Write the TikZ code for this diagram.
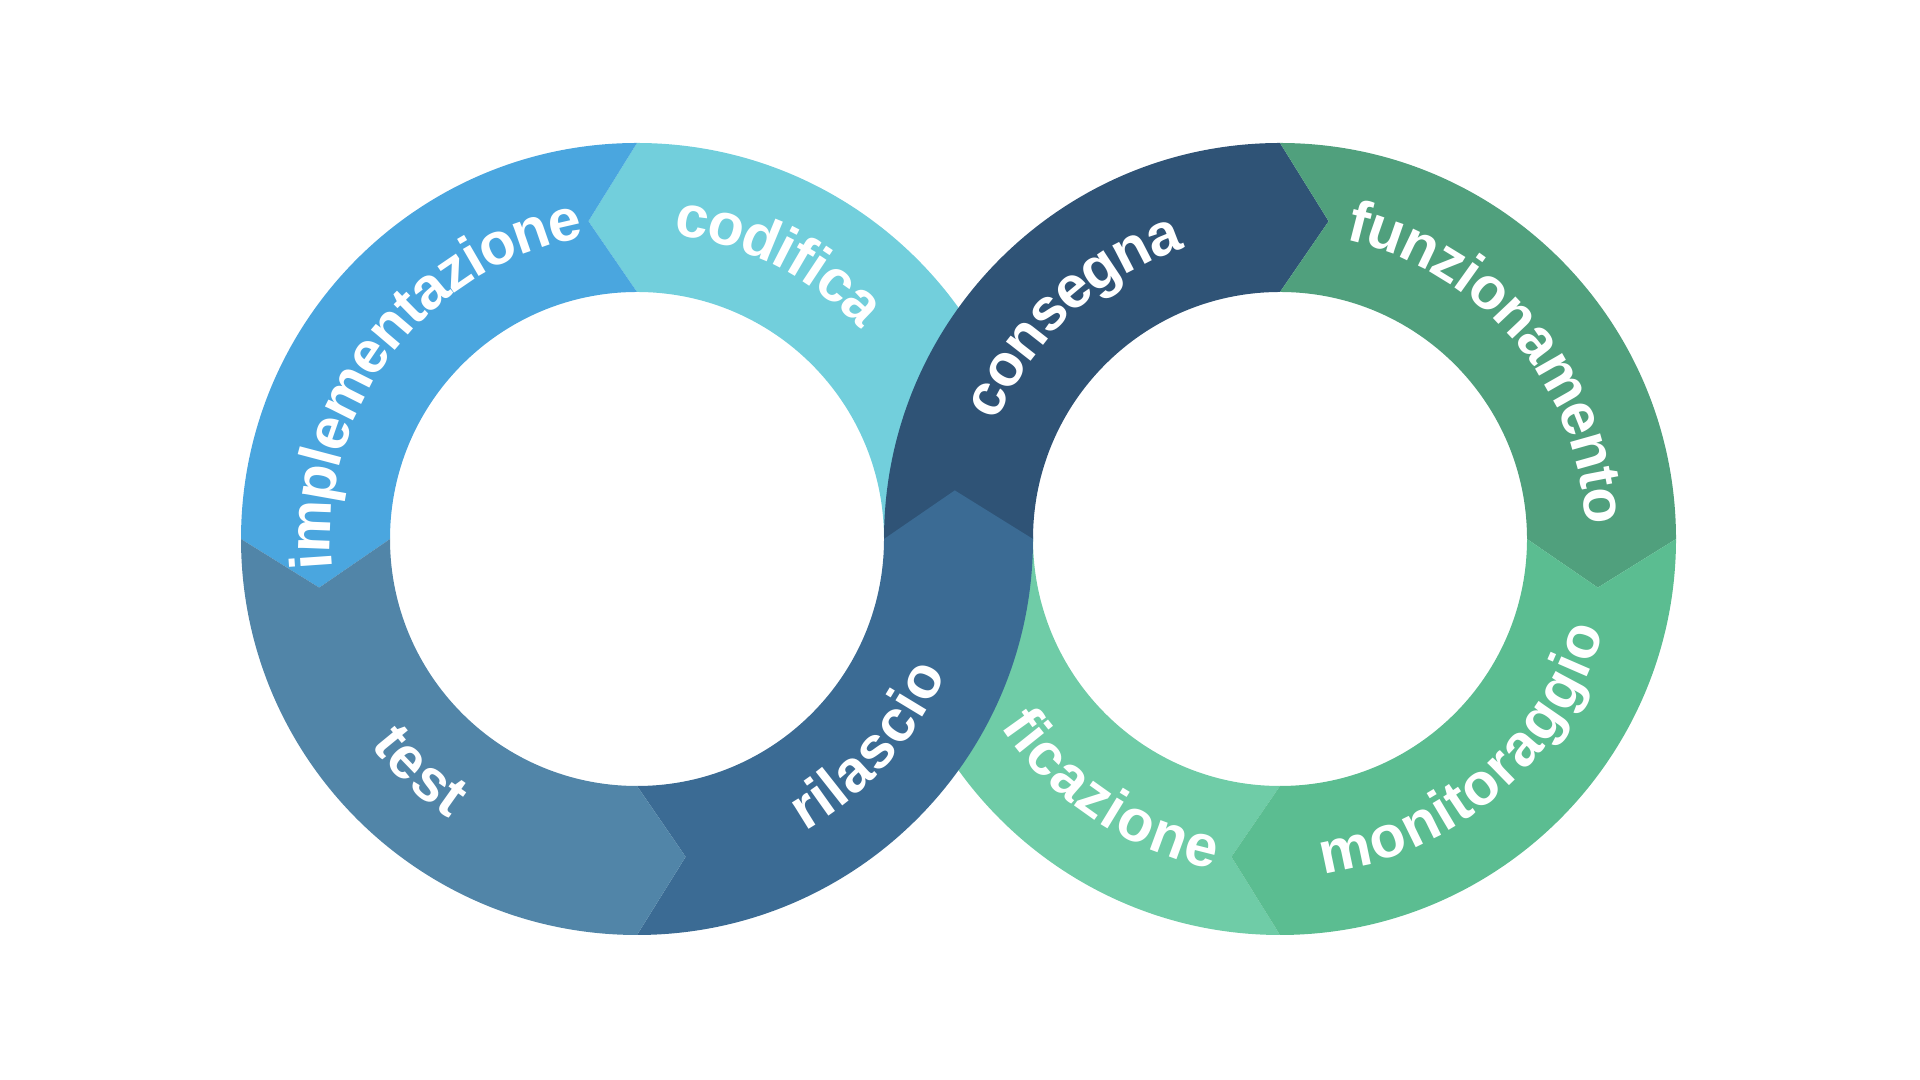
\documentclass[tikz,border=0pt]{standalone}
\usepackage{fontspec}
\setsansfont{Liberation Sans}
\usetikzlibrary{decorations.text}

\definecolor{impc}{HTML}{4AA6DF}
\definecolor{codc}{HTML}{72CFDC}
\definecolor{tesc}{HTML}{5185A8}
\definecolor{rilc}{HTML}{3B6B94}
\definecolor{conc}{HTML}{2F5376}
\definecolor{func}{HTML}{50A07D}
\definecolor{monc}{HTML}{5BBD91}
\definecolor{verc}{HTML}{6FCCA7}

\newcommand{\labfont}{\sffamily\bfseries\fontsize{16.8}{19}\selectfont}
\newcommand{\ringpart}[6]{%
  \fill[#1, shift={(#2)}] (#3:\Ro) arc[start angle=#3, end angle=#4, radius=\Ro]
    -- ({#4+(#6)}:\Rm) -- (#4:\Ri) arc[start angle=#4, end angle=#3, radius=\Ri]
    -- ({#3+(#5)}:\Rm) -- cycle;}
\newcommand{\ringlabel}[4]{%
  \path[shift={(#1)}, lab=#4] ({#2-60*(#3)}:\Rm)
    arc[start angle={#2-60*(#3)}, end angle={#2+60*(#3)}, radius=\Rm];}

\tikzset{lab/.style={decorate, decoration={text along path, text align=center,
  raise=-0.153cm, text color=white, text={|\labfont|#1}}}}

\begin{document}
\begin{tikzpicture}
    \useasboundingbox (0,0) rectangle (19.2,10.8);
    \def\Ro{3.96}
    \def\Ri{2.47}
    \def\Rm{3.215}
    \coordinate (left) at (6.37,5.41);
    \coordinate (right) at (12.80,5.41);
    \ringpart{codc}{left}{0}{90}{0}{8.7}
    \ringpart{verc}{right}{-90}{-180}{-8.7}{0}
    \begin{scope}
        \clip[shift={(right)}] (0,0) -- (213.2:5) arc[start angle=213.2, end angle=300, radius=5] -- cycle;
        \ringlabel{right}{226.9}{1}{verificazione}
    \end{scope}
    \ringlabel{left}{63.1}{-1}{codifica}
    \ringpart{conc}{right}{180}{90}{0}{-8.7}
    \ringpart{rilc}{left}{270}{360}{8.7}{8.7}
    \ringpart{impc}{left}{90}{180}{8.7}{8.7}
    \ringpart{tesc}{left}{180}{270}{8.7}{8.7}
    \ringpart{func}{right}{90}{0}{-8.7}{-8.7}
    \ringpart{monc}{right}{0}{-90}{-8.7}{-8.7}
    \ringlabel{left}{142.75}{-1}{implementazione}
    \ringlabel{left}{227}{1}{test}
    \ringlabel{left}{318.25}{1}{rilascio}
    \ringlabel{right}{132.8}{-1}{consegna}
    \ringlabel{right}{40.1}{-1}{funzionamento}
    \ringlabel{right}{310.75}{1}{monitoraggio}
\end{tikzpicture}
\end{document}
